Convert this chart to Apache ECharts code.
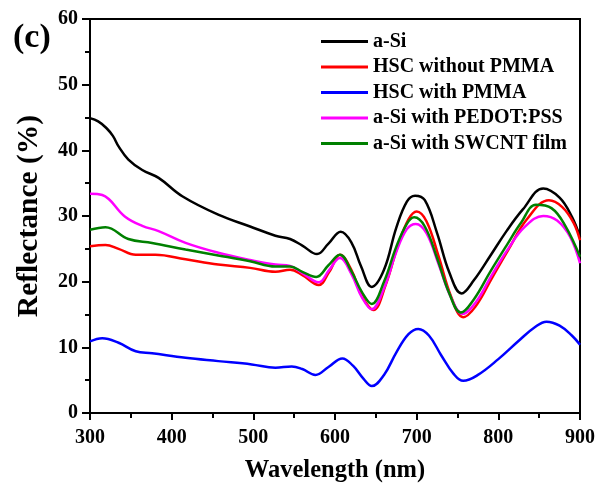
<!DOCTYPE html>
<html>
<head>
<meta charset="utf-8">
<script src="https://cdn.jsdelivr.net/npm/echarts@6/dist/echarts.min.js"></script>
<style>html,body{margin:0;padding:0;background:#fff;}#c{width:597px;height:485px;}</style>
</head>
<body>
<div id="c"></div>
<script>
var seriesNames = ['a-Si', 'HSC without PMMA', 'HSC with PMMA', 'a-Si with PEDOT:PSS', 'a-Si with SWCNT film'];
var xTicks = [300, 400, 500, 600, 700, 800, 900];
var yTicks = [0, 10, 20, 30, 40, 50, 60];

var aSi = [[300,44.9],[310,44.4],[320,43.4],[328,42.2],[335,40.6],[347,38.6],[364,37.0],[384,35.8],[413,33.0],[457,30.2],[496,28.4],[527,27.0],[545,26.5],[560,25.5],[578,24.2],[592,25.8],[607,27.6],[620,26.0],[632,22.3],[645,19.2],[660,21.8],[675,28.2],[688,32.2],[698,33.1],[710,32.4],[725,27.4],[740,21.4],[755,18.2],[770,20.2],[790,23.9],[810,27.7],[830,31.0],[855,34.2],[875,32.8],[890,29.9],[900,26.8]];
var hscNoPMMA = [[300,25.4],[319,25.6],[335,25.0],[356,24.1],[380,24.1],[417,23.4],[457,22.6],[496,22.1],[527,21.5],[545,21.8],[560,21.0],[580,19.5],[593,21.5],[606,24.1],[620,21.8],[633,17.8],[647,15.7],[662,19.5],[677,25.5],[690,29.5],[700,30.7],[712,29.2],[727,23.8],[742,17.8],[757,14.6],[772,16.2],[792,20.5],[812,24.8],[835,29.5],[862,32.4],[878,31.4],[892,29.0],[900,26.3]];
var hscPMMA = [[300,10.9],[315,11.4],[335,10.7],[356,9.4],[376,9.1],[417,8.4],[457,7.9],[498,7.4],[527,6.9],[547,7.1],[560,6.7],[576,5.8],[592,7.0],[609,8.3],[622,7.2],[635,5.2],[645,4.1],[660,5.8],[675,9.2],[690,12.0],[702,12.8],[715,11.8],[730,8.8],[745,6.0],[757,4.9],[775,5.8],[800,8.2],[825,11.0],[845,13.1],[859,13.9],[875,13.3],[890,11.8],[900,10.4]];
var pedot = [[300,33.4],[315,33.2],[343,29.9],[364,28.5],[384,27.7],[417,25.9],[457,24.4],[496,23.3],[527,22.6],[545,22.4],[560,21.3],[580,19.9],[593,21.8],[606,23.6],[620,21.2],[633,17.6],[645,15.8],[660,19.0],[675,24.5],[688,28.0],[699,28.8],[712,27.4],[727,22.6],[742,17.6],[756,15.1],[772,16.8],[792,21.0],[812,25.0],[832,28.3],[855,30.0],[872,29.3],[888,26.8],[900,22.8]];
var swcnt = [[300,27.9],[319,28.3],[347,26.5],[376,25.9],[417,24.9],[457,24.0],[496,23.1],[527,22.3],[545,22.3],[560,21.5],[577,20.7],[592,22.5],[606,24.1],[620,21.6],[633,18.4],[645,16.6],[660,20.0],[675,25.3],[688,28.8],[697,29.8],[710,28.4],[725,23.6],[740,18.2],[754,15.3],[770,17.3],[790,21.5],[810,25.5],[828,29.0],[846,31.7],[865,31.2],[882,28.5],[900,23.8]];

var colors = ['#000000', '#ff0000', '#0000ff', '#ff00ff', '#008000'];
var datasets = [aSi, hscNoPMMA, hscPMMA, pedot, swcnt];

var font = '"Liberation Serif", "Times New Roman", serif';
var chart = echarts.init(document.getElementById('c'));
chart.setOption({
  animation: false,
  backgroundColor: '#fff',
  grid: { left: 90, right: 17, top: 19, bottom: 72, outerBoundsMode: 'none', containLabel: false,
    show: true, borderColor: '#000', borderWidth: 2, backgroundColor: 'transparent' },
  title: { text: '(c)', left: 8, top: 16, textStyle: { fontFamily: font, fontWeight: 'bold', fontSize: 34, color: '#000' } },
  legend: {
    orient: 'vertical', left: 316, top: 26, icon: 'rect', itemWidth: 47, itemHeight: 3, itemGap: 4.5,
    textStyle: { fontFamily: font, fontWeight: 'bold', fontSize: 20, color: '#000', lineHeight: 21 },
    data: seriesNames
  },
  xAxis: {
    type: 'value', min: 300, max: 900, interval: 100,
    name: 'Wavelength (nm)', nameLocation: 'middle', nameGap: 45,
    nameTextStyle: { fontFamily: font, fontWeight: 'bold', fontSize: 24.5, color: '#000' },
    axisLine: { lineStyle: { color: '#000', width: 2 } },
    axisTick: { length: 7, lineStyle: { color: '#000', width: 2 } },
    minorTick: { show: true, splitNumber: 2, length: 5, lineStyle: { color: '#000', width: 2 } },
    splitLine: { show: false },
    axisLabel: { fontFamily: font, fontWeight: 'bold', fontSize: 20, color: '#000', margin: 15,
      formatter: function (v) { return xTicks.indexOf(v) >= 0 ? String(v) : ''; } }
  },
  yAxis: {
    type: 'value', min: 0, max: 60, interval: 10,
    name: 'Reflectance (%)', nameLocation: 'middle', nameGap: 46,
    nameTextStyle: { fontFamily: font, fontWeight: 'bold', fontSize: 29.5, color: '#000' },
    axisLine: { show: true, lineStyle: { color: '#000', width: 2 } },
    axisTick: { show: true, length: 8, lineStyle: { color: '#000', width: 2 } },
    minorTick: { show: true, splitNumber: 2, length: 5, lineStyle: { color: '#000', width: 2 } },
    splitLine: { show: false },
    axisLabel: { fontFamily: font, fontWeight: 'bold', fontSize: 20, color: '#000', margin: 12,
      formatter: function (v) { return yTicks.indexOf(v) >= 0 ? String(v) : ''; } }
  },
  series: datasets.map(function (d, i) {
    return { name: seriesNames[i], type: 'line', data: d, smooth: 0.4, symbol: 'none',
      lineStyle: { color: colors[i], width: 2.5 }, itemStyle: { color: colors[i] } };
  })
});
</script>
</body>
</html>
